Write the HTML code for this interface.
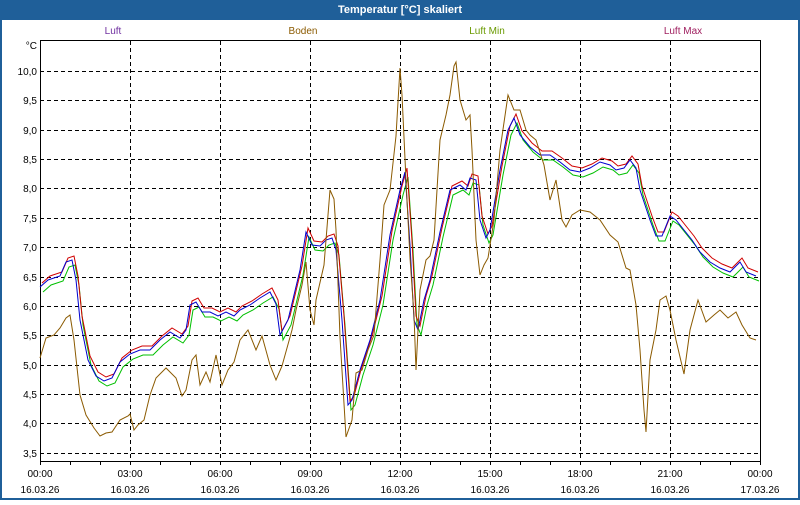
<!DOCTYPE html>
<html><head><meta charset="utf-8"><style>
html,body{margin:0;padding:0;background:#fff}
body{width:800px;height:500px;overflow:hidden}
</style></head><body>
<svg width="800" height="500" xmlns="http://www.w3.org/2000/svg" font-family="Liberation Sans, sans-serif" font-size="11">
<rect x="0" y="0" width="800" height="500" fill="#1f5f99"/>
<rect x="2" y="20" width="796" height="478" fill="#fff"/>
<text x="400" y="13" fill="#fff" font-weight="bold" text-anchor="middle">Temperatur [°C] skaliert</text>
<text x="113" y="34" fill="#7030a0" text-anchor="middle" font-size="10">Luft</text>
<text x="303" y="34" fill="#8b5a00" text-anchor="middle" font-size="10">Boden</text>
<text x="487" y="34" fill="#6a9a00" text-anchor="middle" font-size="10">Luft Min</text>
<text x="683" y="34" fill="#a02060" text-anchor="middle" font-size="10">Luft Max</text>
<g stroke="#000" stroke-dasharray="4,3" stroke-width="1">
<path d="M130.5 41V461M220.5 41V461M310.5 41V461M400.5 41V461M490.5 41V461M580.5 41V461M670.5 41V461"/>
<path d="M40 71.5H760M40 100.5H760M40 130.5H760M40 159.5H760M40 188.5H760M40 218.5H760M40 247.5H760M40 277.5H760M40 306.5H760M40 335.5H760M40 365.5H760M40 394.5H760M40 423.5H760M40 453.5H760"/>
</g>
<path d="M40.5 40.5H760.5V461.5H40.5Z" fill="none" stroke="#000"/>
<g stroke="#000"><path d="M70.5 461v4M100.5 461v4M130.5 461v4M160.5 461v4M190.5 461v4M220.5 461v4M250.5 461v4M280.5 461v4M310.5 461v4M340.5 461v4M370.5 461v4M400.5 461v4M430.5 461v4M460.5 461v4M490.5 461v4M520.5 461v4M550.5 461v4M580.5 461v4M610.5 461v4M640.5 461v4M670.5 461v4M700.5 461v4M730.5 461v4M760.5 461v4M40.5 461v4"/></g>
<g font-size="10" text-anchor="end" fill="#000">
<text x="37" y="49">°C</text>
<text x="37" y="75">10,0</text><text x="37" y="104">9,5</text><text x="37" y="134">9,0</text><text x="37" y="163">8,5</text><text x="37" y="192">8,0</text><text x="37" y="222">7,5</text><text x="37" y="251">7,0</text><text x="37" y="281">6,5</text><text x="37" y="310">6,0</text><text x="37" y="339">5,5</text><text x="37" y="369">5,0</text><text x="37" y="398">4,5</text><text x="37" y="427">4,0</text><text x="37" y="457">3,5</text>
</g>
<g font-size="10" text-anchor="middle" fill="#000">
<text x="40" y="477">00:00</text><text x="130" y="477">03:00</text><text x="220" y="477">06:00</text><text x="310" y="477">09:00</text><text x="400" y="477">12:00</text><text x="490" y="477">15:00</text><text x="580" y="477">18:00</text><text x="670" y="477">21:00</text><text x="760" y="477">00:00</text>
<text x="40" y="493">16.03.26</text><text x="130" y="493">16.03.26</text><text x="220" y="493">16.03.26</text><text x="310" y="493">16.03.26</text><text x="400" y="493">16.03.26</text><text x="490" y="493">16.03.26</text><text x="580" y="493">16.03.26</text><text x="670" y="493">16.03.26</text><text x="760" y="493">17.03.26</text>
</g>
<defs><polyline id="luft" fill="none" points="40,287 48,280 60,276 66,262 72,260 76,280 80,320 88,360 96,376 104,381 112,378 120,362 130,354 140,350 150,350 160,340 170,332 180,338 186,330 190,305 196,302 202,312 210,312 218,316 226,312 234,316 240,310 250,305 260,298 270,292 276,304 280,335 288,320 300,270 306,232 312,245 320,246 326,240 332,238 336,250 342,320 348,405 352,400 360,370 370,340 380,300 390,235 400,190 405,172 410,245 414,320 418,330 424,300 430,280 440,232 450,190 460,185 466,190 470,178 476,180 480,220 486,238 490,230 500,170 508,130 514,118 520,135 530,147 540,155 550,155 560,162 570,170 580,172 590,168 600,162 610,165 616,170 624,168 630,160 636,168 640,190 650,220 656,236 662,236 670,216 676,220 684,230 692,240 700,252 710,262 720,268 730,272 740,262 746,272 756,276"/></defs>
<use href="#luft" stroke="#00c000" transform="translate(3,5)"/>
<use href="#luft" stroke="#d00000" transform="translate(2,-4)"/>
<use href="#luft" stroke="#0000d0"/>
<polyline fill="none" stroke="#8b5a00" points="40,358 46,338 54,335 60,328 66,318 70,315 74,340 80,395 86,415 94,428 100,436 106,433 112,432 120,420 128,416 130,414 134,430 138,425 144,420 150,395 156,378 166,368 176,378 182,396 186,390 192,360 196,355 200,385 206,372 210,382 216,355 222,385 228,370 234,362 240,340 248,330 256,350 262,336 270,365 276,380 282,366 292,330 296,310 302,285 306,262 310,310 314,325 316,300 324,265 330,190 334,199 336,230 340,337 346,437 352,420 356,373 362,370 368,350 374,335 380,260 384,205 390,190 396,136 400,68 402,95 406,180 410,258 414,315 416,370 420,290 426,260 430,256 434,240 440,140 446,115 450,95 454,66 456,62 460,100 466,120 470,115 472,150 476,240 480,275 484,265 488,258 494,220 500,150 508,95 514,110 520,110 526,130 530,135 536,140 544,165 550,200 556,180 562,220 566,227 572,215 580,210 590,212 600,220 610,235 618,242 626,268 630,270 636,305 640,350 644,410 646,432 650,360 656,330 660,300 666,296 670,310 676,340 684,374 690,330 698,300 706,322 714,315 720,310 728,318 736,312 742,325 750,338 756,340"/>
</svg>
</body></html>
